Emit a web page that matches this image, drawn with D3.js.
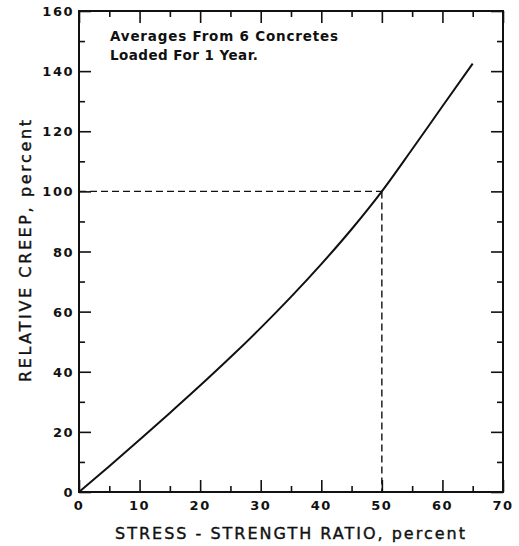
<!DOCTYPE html>
<html>
<head>
<meta charset="utf-8">
<script src="https://cdn.jsdelivr.net/npm/d3@7"></script>
<style>
  html, body { margin: 0; padding: 0; background: #fff; }
  svg text { fill: #111; }
</style>
</head>
<body>
<svg id="chart" width="519" height="546"></svg>
<script>
// Relative creep versus stress-strength ratio (averages of 6 concretes, 1 year under load)
const stressRatio  = [0, 5, 10, 15, 20, 25, 30, 35, 40, 45, 50, 55, 60, 65];
const relCreep     = [0, 8.6, 17.4, 26.3, 35.4, 44.8, 54.6, 64.9, 75.8, 87.4, 100, 114, 128.3, 142.5];
const refPoint     = { x: 50, y: 100 };
const xTickLabels  = [0, 10, 20, 30, 40, 50, 60, 70];
const yTickLabels  = [0, 20, 40, 60, 80, 100, 120, 140, 160];
const noteLines    = ["Averages From 6 Concretes", "Loaded For 1 Year."];
const xTitle       = "STRESS - STRENGTH  RATIO, percent";
const yTitle       = "RELATIVE  CREEP, percent";

const svg = d3.select("#chart");
const m = { left: 79, right: 503, top: 11, bottom: 492 };

const x = d3.scaleLinear().domain([0, 70]).range([m.left, m.right]);
const y = d3.scaleLinear().domain([0, 160]).range([m.bottom, m.top]);

const ink = "#111";
const tickFont = "'DejaVu Sans', sans-serif";

// inward-pointing major and minor ticks on all four sides
function ticksOn(axisGen, scale, majors, minors, transform) {
  const gMaj = svg.append("g").attr("transform", transform)
    .call(axisGen(scale).tickValues(majors).tickSize(-12).tickFormat(""));
  const gMin = svg.append("g").attr("transform", transform)
    .call(axisGen(scale).tickValues(minors).tickSize(-6).tickFormat(""));
  [gMaj, gMin].forEach(g => {
    g.select(".domain").remove();
    g.selectAll(".tick line").attr("stroke", ink).attr("stroke-width", 1.6);
  });
}
const xMaj = d3.range(0, 71, 10), xMin = d3.range(5, 70, 10);
const yMaj = d3.range(0, 161, 20), yMin = d3.range(10, 160, 20);
ticksOn(d3.axisBottom, x, xMaj, xMin, `translate(0,${m.bottom})`);
ticksOn(d3.axisTop,    x, xMaj, xMin, `translate(0,${m.top})`);
ticksOn(d3.axisLeft,   y, yMaj, yMin, `translate(${m.left},0)`);
ticksOn(d3.axisRight,  y, yMaj, yMin, `translate(${m.right},0)`);

// frame
svg.append("rect")
  .attr("x", m.left).attr("y", m.top)
  .attr("width", m.right - m.left).attr("height", m.bottom - m.top)
  .attr("fill", "none").attr("stroke", ink).attr("stroke-width", 2);

// tick labels
svg.append("g").selectAll("text").data(xTickLabels).join("text")
  .attr("x", d => x(d)).attr("y", 510)
  .attr("text-anchor", "middle")
  .attr("font-family", tickFont).attr("font-weight", "bold")
  .attr("font-size", 13).attr("letter-spacing", 1.5)
  .text(d => d);

svg.append("g").selectAll("text").data(yTickLabels).join("text")
  .attr("x", 74).attr("y", d => y(d) + 5)
  .attr("text-anchor", "end")
  .attr("font-family", tickFont).attr("font-weight", "bold")
  .attr("font-size", 13).attr("letter-spacing", 1.5)
  .text(d => d);

// dashed guides to the 50 % / 100 % point
const guide = svg.append("g").attr("stroke", ink).attr("stroke-width", 1.4)
  .attr("stroke-dasharray", "7,4").attr("fill", "none");
guide.append("line")
  .attr("x1", x(0)).attr("y1", y(refPoint.y))
  .attr("x2", x(refPoint.x)).attr("y2", y(refPoint.y));
guide.append("line")
  .attr("x1", x(refPoint.x)).attr("y1", y(refPoint.y))
  .attr("x2", x(refPoint.x)).attr("y2", y(0));

// creep curve
const pts = stressRatio.map((v, i) => [v, relCreep[i]]);
svg.append("path")
  .datum(pts)
  .attr("fill", "none").attr("stroke", ink).attr("stroke-width", 2)
  .attr("d", d3.line().x(d => x(d[0])).y(d => y(d[1])).curve(d3.curveMonotoneX));

// note
svg.append("g").selectAll("text").data(noteLines).join("text")
  .attr("x", 110).attr("y", (d, i) => 41 + i * 19)
  .attr("font-family", tickFont).attr("font-weight", "bold")
  .attr("font-size", 13.5)
  .attr("textLength", (d, i) => i === 0 ? 228 : 148)
  .attr("lengthAdjust", "spacing")
  .text(d => d);

// axis titles
svg.append("text")
  .attr("x", 115).attr("y", 539)
  .attr("font-family", tickFont).attr("font-size", 16)
  .attr("stroke", ink).attr("stroke-width", 0.4)
  .attr("textLength", 350).attr("lengthAdjust", "spacing")
  .text(xTitle);

svg.append("text")
  .attr("transform", "translate(31,382) rotate(-90)")
  .attr("font-family", tickFont).attr("font-size", 16)
  .attr("stroke", ink).attr("stroke-width", 0.4)
  .attr("textLength", 262).attr("lengthAdjust", "spacing")
  .text(yTitle);
</script>
</body>
</html>
